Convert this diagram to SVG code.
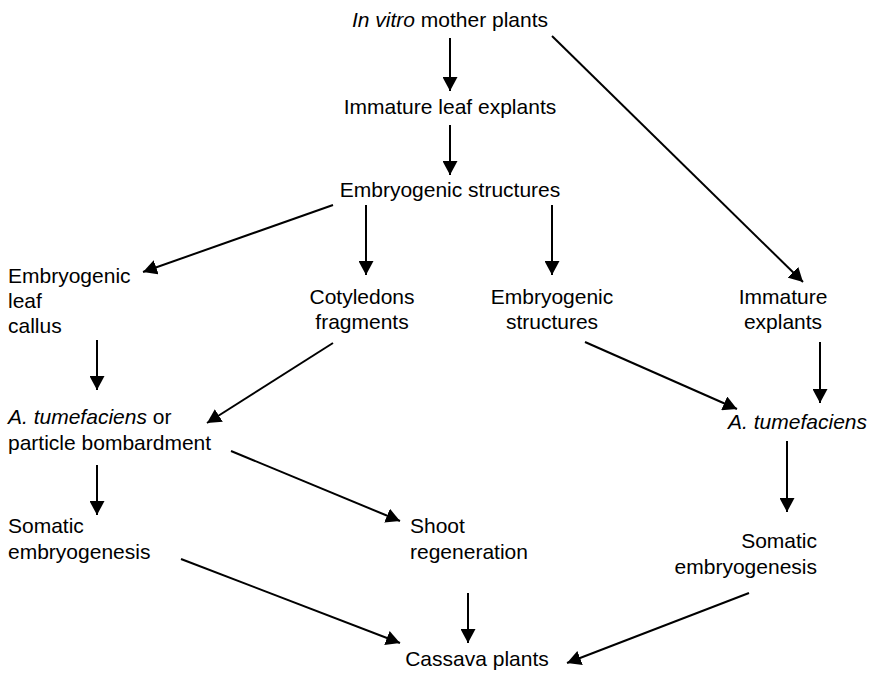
<svg xmlns="http://www.w3.org/2000/svg" width="871" height="673" viewBox="0 0 871 673">
<style>
text{font-family:"Liberation Sans",Arial,Helvetica,sans-serif;font-size:21px;fill:#000}
.i{font-style:italic}
.m{text-anchor:middle}
.e{text-anchor:end}
.c line{stroke:#000;stroke-width:2;marker-end:url(#ah)}
</style>
<defs>
<marker id="ah" viewBox="0 0 14 15" markerWidth="14" markerHeight="15" refX="14" refY="7.5" orient="auto" markerUnits="userSpaceOnUse">
<path d="M0,0 L14,7.5 L0,15 z" fill="#000"/>
</marker>
</defs>
<rect width="871" height="673" fill="#fff"/>
<g id="n-mother"><text x="450" y="27" class="m"><tspan class="i">In vitro</tspan> mother plants</text></g>
<g id="n-leafexpl"><text x="450" y="114" class="m">Immature leaf explants</text></g>
<g id="n-embstruct"><text x="450" y="197" class="m">Embryogenic structures</text></g>
<g id="n-callus"><text x="8" y="283">Embryogenic</text><text x="8" y="308">leaf</text><text x="8" y="333">callus</text></g>
<g id="n-cotyl"><text x="362" y="304" class="m">Cotyledons</text><text x="362" y="329" class="m">fragments</text></g>
<g id="n-embstruct2"><text x="552" y="304" class="m">Embryogenic</text><text x="552" y="329" class="m">structures</text></g>
<g id="n-immexpl"><text x="783" y="304" class="m">Immature</text><text x="783" y="329" class="m">explants</text></g>
<g id="n-atpb"><text x="8" y="424"><tspan class="i">A. tumefaciens</tspan> or</text><text x="8" y="450">particle bombardment</text></g>
<g id="n-at"><text x="867" y="429" class="e i">A. tumefaciens</text></g>
<g id="n-somatic1"><text x="8" y="533">Somatic</text><text x="8" y="559">embryogenesis</text></g>
<g id="n-shoot"><text x="410" y="533">Shoot</text><text x="410" y="559">regeneration</text></g>
<g id="n-somatic2"><text x="817" y="548" class="e">Somatic</text><text x="817" y="574" class="e">embryogenesis</text></g>
<g id="n-cassava"><text x="477" y="666" class="m">Cassava plants</text></g>
<g id="connectors" class="c">
<line x1="450" y1="38" x2="450" y2="91"/>
<line x1="450" y1="125" x2="450" y2="175"/>
<line x1="552" y1="36" x2="803" y2="282"/>
<line x1="333" y1="205" x2="143" y2="272"/>
<line x1="366" y1="205" x2="366" y2="275"/>
<line x1="552" y1="205" x2="552" y2="275"/>
<line x1="97" y1="340" x2="97" y2="390"/>
<line x1="333" y1="343" x2="207" y2="423"/>
<line x1="585" y1="342" x2="737" y2="409"/>
<line x1="820" y1="342" x2="820" y2="403"/>
<line x1="97" y1="465" x2="97" y2="515"/>
<line x1="231" y1="451" x2="400" y2="521"/>
<line x1="787" y1="441" x2="787" y2="512"/>
<line x1="181" y1="559" x2="400" y2="643"/>
<line x1="468" y1="593" x2="468" y2="643"/>
<line x1="749" y1="593" x2="567" y2="663"/>
</g>
</svg>
